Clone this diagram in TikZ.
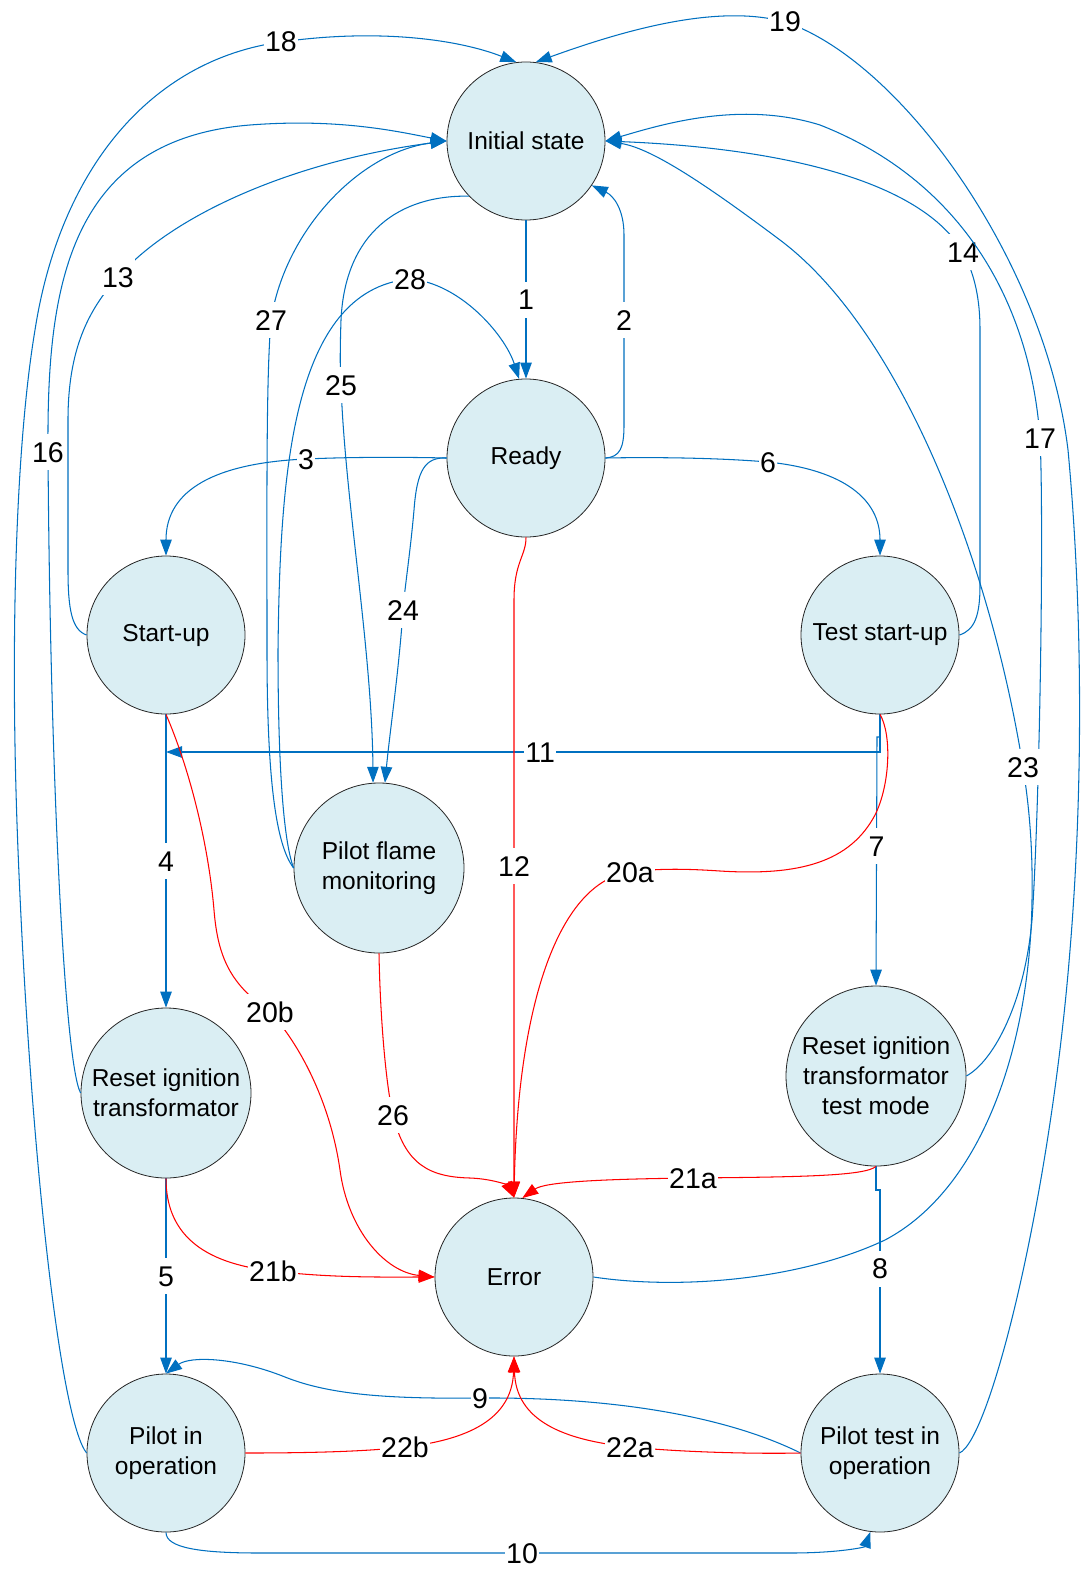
\documentclass[tikz,border=0pt]{standalone}
\usepackage{fontspec}
\setmainfont{Liberation Sans}
\usetikzlibrary{arrows.meta}
\definecolor{flowblue}{RGB}{0,112,192}
\definecolor{flowred}{RGB}{255,0,0}
\definecolor{statefill}{RGB}{218,238,243}

\begin{document}
\begin{tikzpicture}[x=1pt,y=-1pt,
  state/.style={circle, draw=black!85, line width=0.8pt, fill=statefill,
    inner sep=0pt, align=center, font=\fontsize{24.5}{30}\selectfont},
  small/.style={minimum size=158pt},
  mid/.style={minimum size=170pt},
  big/.style={minimum size=180pt},
  lbl/.style={fill=white, inner xsep=1.5pt, inner ysep=6pt, text height=22pt,
    text depth=2pt, font=\fontsize{28.5}{30}\selectfont},
  arrowend/.style={-{Triangle[length=16pt,width=11.5pt]}},
  bluearc/.style={draw=flowblue, line width=1.05pt, arrowend},
  redarc/.style={draw=flowred, line width=1.05pt, arrowend}]

\fill[white] (0,0) rectangle (1081,1570);
\useasboundingbox (0,0) rectangle (1081,1570);

% states
\node[state, small] (nInit)   at (526,141)  {Initial state};
\node[state, small] (nReady)  at (526,458)  {Ready};
\node[state, small] (nStart)  at (166,635)  {Start-up};
\node[state, small] (nTest)   at (880,635)  {Test start-up};
\node[state, mid]   (nFlame)  at (379,868)  {Pilot flame\\monitoring};
\node[state, mid]   (nReset)  at (166,1093) {Reset ignition\\transformator};
\node[state, big]   (nResetT) at (876,1076) {Reset ignition\\transformator\\test mode};
\node[state, small] (nErr)    at (514,1277) {Error};
\node[state, small] (nPilot)  at (166,1453) {Pilot in\\operation};
\node[state, small] (nPilotT) at (880,1453) {Pilot test in\\operation};

% normal transitions
\draw[bluearc] (nInit.south) -- node[lbl] (l1) {1} (nReady.north);
\draw[bluearc] (nReady.east) .. controls (620,457) and (624,448) .. (624,425)
  -- (624,320) node[lbl] (l2) {2} -- (624,235)
  .. controls (624,210) and (614,196) .. (nInit.-34);
\draw[bluearc] (nReady.west) .. controls (400,457) and (350,457) .. (306,459) node[lbl] (l3) {3}
  .. controls (215,463) and (166,490) .. (nStart.north);
\draw[bluearc] (nStart.south) -- node[lbl] (l4) {4} (nReset.north);
\draw[bluearc] (nReset.south) -- node[lbl] (l5) {5} (nPilot.north);
\draw[bluearc] (nReady.east) .. controls (660,457) and (720,458) .. (768,462) node[lbl] (l6) {6}
  .. controls (845,470) and (880,500) .. (nTest.north);
\draw[bluearc] (nTest.south) -- (880,737) -- (877,737) -- node[lbl, pos=0.44] (l7) {7} (nResetT.north);
\draw[bluearc] (nResetT.south) -- (876,1190) -- (880,1190) -- node[lbl, pos=0.43] (l8) {8} (nPilotT.north);
\draw[bluearc] (nPilotT.west) .. controls (730,1418) and (620,1397) .. (480,1398) node[lbl] (l9) {9}
  .. controls (390,1399) and (330,1395) .. (285,1377)
  .. controls (235,1357) and (190,1356) .. (nPilot.north);
\draw[bluearc] (nPilot.south) .. controls (166,1548) and (200,1553) .. (260,1553)
  -- (522,1553) node[lbl] (l10) {10} -- (790,1553)
  .. controls (840,1553) and (865,1547) .. (nPilotT.-97);
\coordinate (c11) at (166,752);
\draw[bluearc] (nTest.south) -- (880,752) -- node[lbl, pos=0.476] (l11) {11} (c11);

% returns to the initial state
\draw[bluearc] (nStart.west) .. controls (72,630) and (68,610) .. (68,570) -- (68,420)
  .. controls (68,350) and (88,310) .. (118,277) node[lbl] (l13) {13}
  .. controls (175,212) and (300,160) .. (nInit.west);
\draw[bluearc] (nTest.east) .. controls (975,630) and (980,615) .. (980,585) -- (980,330)
  .. controls (980,300) and (975,275) .. (963,252) node[lbl] (l14) {14}
  .. controls (920,180) and (780,148) .. (nInit.east);
\draw[bluearc] (nReset.west) .. controls (64,1062) and (50,760) .. (48,452) node[lbl] (l16) {16}
  .. controls (47,300) and (62,140) .. (250,125)
  .. controls (340,118) and (400,132) .. (nInit.west);
\draw[bluearc] (nResetT.east) .. controls (995,1060) and (1025,1000) .. (1032,920)
  .. controls (1040,800) and (1044,520) .. (1040,438) node[lbl] (l17) {17}
  .. controls (1030,300) and (960,180) .. (820,125)
  .. controls (740,100) and (660,125) .. (nInit.east);
\draw[bluearc] (nPilot.west) .. controls (60,1420) and (30,1150) .. (18,850)
  .. controls (10,650) and (15,450) .. (35,330)
  .. controls (60,170) and (150,60) .. (281,42) node[lbl] (l18) {18}
  .. controls (380,28) and (460,40) .. (nInit.97);
\draw[bluearc] (nPilotT.east) .. controls (990,1440) and (1050,1200) .. (1070,950)
  .. controls (1084,780) and (1082,600) .. (1068,450)
  .. controls (1045,260) and (900,60) .. (785,22) node[lbl] (l19) {19}
  .. controls (720,4) and (630,28) .. (nInit.83);
\draw[bluearc] (nErr.east) .. controls (680,1290) and (800,1280) .. (885,1240)
  .. controls (980,1190) and (1030,1050) .. (1032,900)
  .. controls (1033,840) and (1028,800) .. (1023,767) node[lbl] (l23) {23}
  .. controls (990,560) and (900,330) .. (780,240)
  .. controls (700,180) and (650,148) .. (nInit.east);

% pilot flame monitoring
\draw[bluearc] (nReady.west) .. controls (425,457) and (417,470) .. (414,510)
  .. controls (410,555) and (405,585) .. (403,610) node[lbl] (l24) {24}
  .. controls (399,670) and (390,730) .. (nFlame.86);
\draw[bluearc] (nInit.224) .. controls (400,195) and (345,232) .. (341,320)
  .. controls (340,350) and (340,370) .. (341,385) node[lbl] (l25) {25}
  .. controls (345,500) and (372,650) .. (nFlame.94);
\draw[bluearc] (nFlame.west) .. controls (276,845) and (267,780) .. (267,650)
  .. controls (267,500) and (266,380) .. (271,320) node[lbl] (l27) {27}
  .. controls (285,230) and (360,152) .. (nInit.west);
\draw[bluearc] (nFlame.west) .. controls (283,840) and (278,760) .. (278,650)
  .. controls (280,480) and (290,290) .. (410,279) node[lbl] (l28) {28}
  .. controls (460,283) and (505,335) .. (nReady.95);

% error transitions
\draw[redarc] (nReady.south) .. controls (526,556) and (514,562) .. (514,600)
  -- (514,866) node[lbl] (l12) {12} -- (nErr.north);
\draw[redarc] (nTest.south) .. controls (892,735) and (890,785) .. (875,815)
  .. controls (850,862) and (800,876) .. (720,871)
  .. controls (690,869) and (660,868) .. (630,872) node[lbl] (l20a) {20a}
  .. controls (560,882) and (518,1000) .. (nErr.north);
\draw[redarc] (nStart.south) .. controls (188,765) and (208,840) .. (214,910)
  .. controls (218,960) and (232,985) .. (270,1012) node[lbl] (l20b) {20b}
  .. controls (298,1042) and (330,1100) .. (340,1170)
  .. controls (348,1230) and (385,1272) .. (nErr.west);
\draw[redarc] (nResetT.south) .. controls (865,1176) and (800,1177) .. (693,1178) node[lbl] (l21a) {21a}
  .. controls (600,1179) and (545,1182) .. (nErr.84);
\draw[redarc] (nReset.south) .. controls (166,1232) and (200,1263) .. (273,1271) node[lbl] (l21b) {21b}
  .. controls (330,1278) and (385,1277) .. (nErr.west);
\draw[redarc] (nPilotT.west) .. controls (750,1454) and (680,1452) .. (630,1447) node[lbl] (l22a) {22a}
  .. controls (562,1440) and (516,1420) .. (nErr.south);
\draw[redarc] (nPilot.east) .. controls (320,1453) and (370,1451) .. (405,1447) node[lbl] (l22b) {22b}
  .. controls (466,1440) and (512,1420) .. (nErr.south);
\draw[redarc] (nFlame.south) .. controls (380,1010) and (385,1080) .. (393,1115) node[lbl] (l26) {26}
  .. controls (405,1165) and (430,1177) .. (470,1178)
  .. controls (495,1179) and (508,1186) .. (nErr.north);
\end{tikzpicture}
\end{document}
